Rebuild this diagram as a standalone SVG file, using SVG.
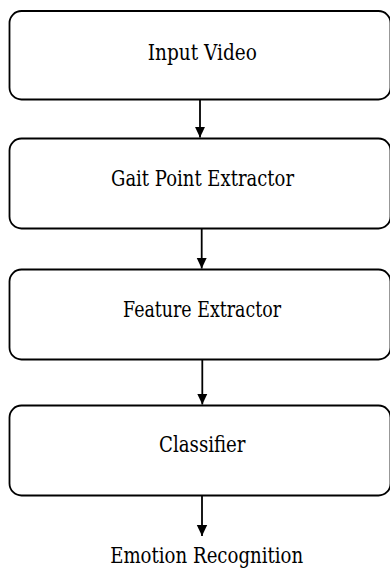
<svg xmlns="http://www.w3.org/2000/svg" width="390" height="568" viewBox="0 0 390 568">
<style>
.box{fill:#fff;stroke:#000;stroke-width:1.8}
.lbl{font-family:'DejaVu Serif','Liberation Serif',serif;font-size:21.5px;fill:#000;text-anchor:middle}
.conn{stroke:#000;stroke-width:1.8;fill:none}
</style>
<defs>
<marker id="ah" markerUnits="userSpaceOnUse" markerWidth="12" markerHeight="12" viewBox="0 0 12 12" refX="11" refY="6" orient="auto">
<path d="M0,0.8 L11,6 L0,11.2 Z" fill="#000"/>
</marker>
</defs>
<rect width="390" height="568" fill="#fff"/>
<g id="n1"><rect class="box" x="9.5" y="11" width="381" height="88.5" rx="12"/><text class="lbl" x="202.3" y="59.5" textLength="109" lengthAdjust="spacingAndGlyphs">Input Video</text></g>
<g id="n2"><rect class="box" x="9.5" y="138.5" width="381" height="90" rx="12"/><text class="lbl" x="202.5" y="186" textLength="183" lengthAdjust="spacingAndGlyphs">Gait Point Extractor</text></g>
<g id="n3"><rect class="box" x="9.5" y="269.5" width="381" height="90" rx="12"/><text class="lbl" x="202" y="317" textLength="158" lengthAdjust="spacingAndGlyphs">Feature Extractor</text></g>
<g id="n4"><rect class="box" x="9.5" y="405.5" width="381" height="90" rx="12"/><text class="lbl" x="202.3" y="452" textLength="86.5" lengthAdjust="spacingAndGlyphs">Classifier</text></g>
<g id="n5"><text class="lbl" x="206.7" y="563" textLength="193" lengthAdjust="spacingAndGlyphs">Emotion Recognition</text></g>
<g id="connectors">
<line class="conn" x1="200" y1="99.5" x2="200" y2="137.5" marker-end="url(#ah)"/>
<line class="conn" x1="201.7" y1="228.5" x2="201.7" y2="268.5" marker-end="url(#ah)"/>
<line class="conn" x1="202.3" y1="359.5" x2="202.3" y2="404.5" marker-end="url(#ah)"/>
<line class="conn" x1="202" y1="495.5" x2="202" y2="536" marker-end="url(#ah)"/>
</g>
</svg>
